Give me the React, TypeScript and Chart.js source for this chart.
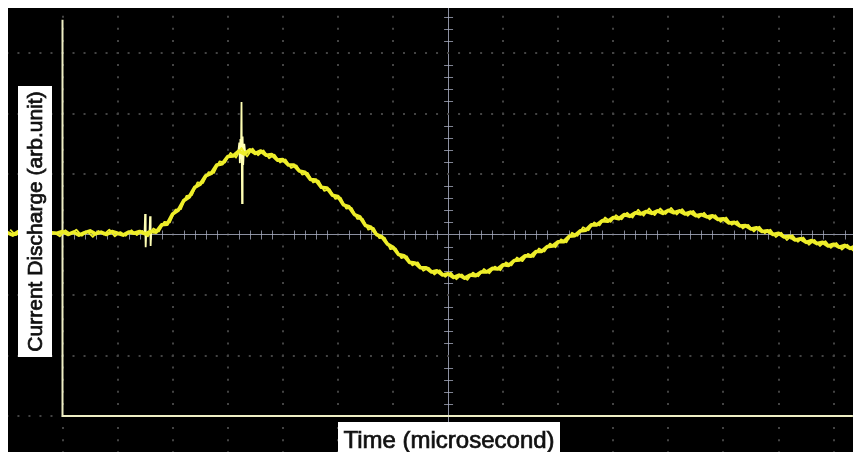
import React, { useEffect, useRef } from "react";
import { Chart, registerables } from "chart.js";

Chart.register(...registerables);

// time axis, in screen divisions
const timeDiv = [
  -1.0, -0.9, -0.8, -0.7, -0.6, -0.5, -0.4, -0.3, -0.2, -0.1,
  0.0, 0.1, 0.2, 0.3, 0.4, 0.5, 0.6, 0.7, 0.8, 0.9,
  1.0, 1.1, 1.2, 1.3, 1.4, 1.5, 1.6, 1.7, 1.8, 1.9,
  2.0, 2.1, 2.2, 2.3, 2.4, 2.5, 2.6, 2.7, 2.8, 2.9,
  3.0, 3.1, 3.2, 3.3, 3.4, 3.5, 3.6, 3.7, 3.8, 3.9,
  4.0, 4.1, 4.2, 4.3, 4.4, 4.5, 4.6, 4.7, 4.8, 4.9,
  5.0, 5.1, 5.2, 5.3, 5.4, 5.5, 5.6, 5.7, 5.8, 5.9,
  6.0, 6.1, 6.2, 6.3, 6.4, 6.5, 6.6, 6.7, 6.8, 6.9,
  7.0, 7.1, 7.2, 7.3, 7.4, 7.5, 7.6, 7.7, 7.8, 7.9,
  8.0, 8.1, 8.2, 8.3, 8.4, 8.5, 8.6, 8.7, 8.8, 8.9,
  9.0, 9.1, 9.2, 9.3, 9.4, 9.5, 9.6, 9.7, 9.8, 9.9,
  10.0, 10.1, 10.2, 10.3, 10.4, 10.5, 10.6, 10.7, 10.8, 10.9,
  11.0, 11.1, 11.2, 11.3, 11.4, 11.5, 11.6, 11.7, 11.8, 11.9,
  12.0, 12.1, 12.2, 12.3, 12.4, 12.5, 12.6, 12.7, 12.8, 12.9,
  13.0, 13.1, 13.2, 13.3, 13.4, 13.5, 13.6, 13.7, 13.8, 13.9,
  14.0, 14.1, 14.2, 14.3, 14.4, 14.5,
];

// current discharge, in screen divisions
const currentDiv = [
  0.03, -0.01, 0.05, 0.0, 0.04, 0.01, 0.06, -0.02, 0.03, 0.02,
  0.05, 0.0, 0.04, -0.01, 0.03, 0.06, 0.01, 0.04, 0.0, 0.05,
  0.02, -0.01, 0.04, 0.02, 0.05, 0.01, 0.05, 0.04, 0.16, 0.17,
  0.34, 0.4, 0.56, 0.62, 0.78, 0.83, 0.97, 1.01, 1.15, 1.17,
  1.29, 1.3, 1.38, 1.33, 1.4, 1.34, 1.38, 1.31, 1.32, 1.23,
  1.24, 1.15, 1.15, 1.05, 1.03, 0.91, 0.9, 0.78, 0.77, 0.65,
  0.63, 0.49, 0.46, 0.33, 0.29, 0.15, 0.12, 0.0, -0.04, -0.16,
  -0.21, -0.33, -0.35, -0.46, -0.47, -0.55, -0.55, -0.62, -0.6, -0.67,
  -0.65, -0.71, -0.67, -0.72, -0.67, -0.68, -0.62, -0.62, -0.56, -0.57,
  -0.5, -0.51, -0.43, -0.42, -0.35, -0.36, -0.28, -0.28, -0.2, -0.19,
  -0.12, -0.12, -0.03, -0.02, 0.06, 0.07, 0.16, 0.16, 0.23, 0.22,
  0.28, 0.26, 0.33, 0.3, 0.36, 0.34, 0.38, 0.35, 0.39, 0.35,
  0.4, 0.36, 0.39, 0.34, 0.37, 0.31, 0.33, 0.29, 0.31, 0.25,
  0.26, 0.19, 0.2, 0.14, 0.15, 0.09, 0.11, 0.05, 0.06, 0.0,
  0.02, -0.04, -0.03, -0.09, -0.07, -0.13, -0.1, -0.15, -0.13, -0.19,
  -0.16, -0.21, -0.18, -0.23, -0.19, -0.23,
];

// in-between samples, carrying the high-frequency noise of the trace
const fineTime = [
  -0.95, -0.85, -0.75, -0.65, -0.55, -0.45, -0.35, -0.25, -0.15, -0.05,
  0.05, 0.15, 0.25, 0.35, 0.45, 0.55, 0.65, 0.75, 0.85, 0.95,
  1.05, 1.15, 1.25, 1.35, 1.45, 1.55, 1.65, 1.75, 1.85, 1.95,
  2.05, 2.15, 2.25, 2.35, 2.45, 2.55, 2.65, 2.75, 2.85, 2.95,
  3.05, 3.15, 3.25, 3.35, 3.45, 3.55, 3.65, 3.75, 3.85, 3.95,
  4.05, 4.15, 4.25, 4.35, 4.45, 4.55, 4.65, 4.75, 4.85, 4.95,
  5.05, 5.15, 5.25, 5.35, 5.45, 5.55, 5.65, 5.75, 5.85, 5.95,
  6.05, 6.15, 6.25, 6.35, 6.45, 6.55, 6.65, 6.75, 6.85, 6.95,
  7.05, 7.15, 7.25, 7.35, 7.45, 7.55, 7.65, 7.75, 7.85, 7.95,
  8.05, 8.15, 8.25, 8.35, 8.45, 8.55, 8.65, 8.75, 8.85, 8.95,
  9.05, 9.15, 9.25, 9.35, 9.45, 9.55, 9.65, 9.75, 9.85, 9.95,
  10.05, 10.15, 10.25, 10.35, 10.45, 10.55, 10.65, 10.75, 10.85, 10.95,
  11.05, 11.15, 11.25, 11.35, 11.45, 11.55, 11.65, 11.75, 11.85, 11.95,
  12.05, 12.15, 12.25, 12.35, 12.45, 12.55, 12.65, 12.75, 12.85, 12.95,
  13.05, 13.15, 13.25, 13.35, 13.45, 13.55, 13.65, 13.75, 13.85, 13.95,
  14.05, 14.15, 14.25, 14.35, 14.45,
];
const fineCurrent = [
  0.08, -0.01, 0.04, -0.03, 0.07, 0.0, 0.09, -0.02, 0.03, -0.03,
  0.07, 0.01, 0.08, -0.02, 0.05, -0.04, 0.06, 0.0, 0.08, -0.03,
  0.04, -0.02, 0.07, -0.01, 0.06, -0.03, 0.1, 0.05, 0.21, 0.2,
  0.41, 0.42, 0.64, 0.65, 0.86, 0.85, 1.03, 1.02, 1.21, 1.19,
  1.35, 1.27, 1.43, 1.29, 1.42, 1.31, 1.39, 1.26, 1.32, 1.19,
  1.24, 1.1, 1.14, 0.99, 1.02, 0.86, 0.89, 0.72, 0.75, 0.59,
  0.61, 0.43, 0.44, 0.26, 0.26, 0.08, 0.11, -0.06, -0.05, -0.24,
  -0.23, -0.39, -0.36, -0.51, -0.46, -0.6, -0.55, -0.66, -0.59, -0.7,
  -0.63, -0.74, -0.66, -0.75, -0.63, -0.69, -0.57, -0.64, -0.53, -0.59,
  -0.46, -0.51, -0.38, -0.44, -0.32, -0.37, -0.23, -0.28, -0.15, -0.21,
  -0.08, -0.13, 0.03, -0.02, 0.12, 0.07, 0.2, 0.15, 0.28, 0.21,
  0.32, 0.25, 0.36, 0.28, 0.41, 0.31, 0.43, 0.32, 0.43, 0.34,
  0.44, 0.33, 0.42, 0.31, 0.39, 0.28, 0.36, 0.25, 0.32, 0.21,
  0.28, 0.16, 0.22, 0.1, 0.16, 0.05, 0.13, 0.02, 0.08, -0.04,
  0.03, -0.09, -0.01, -0.12, -0.05, -0.17, -0.09, -0.19, -0.11, -0.22,
  -0.14, -0.25, -0.17, -0.26, -0.18,
];

// switching spikes on the trace (null = break)
const spikeTime = [
  1.49, 1.5, 1.51, 1.52, 1.52,
  1.58, 1.59, 1.6, 1.61, 1.61,
  3.19, 3.21, 3.22, 3.23, 3.24, 3.25, 3.26, 3.27, 3.28, 3.3, 3.32,
];
const spikeCurrent = [
  0.03, 0.34, -0.21, 0.03, null,
  0.03, 0.3, -0.19, 0.03, null,
  1.35, 1.52, 1.18, 1.58, 1.25, 2.19, 0.52, 1.62, 1.15, 1.5, 1.33,
];

const gridTimes = [0, 1, 2, 3, 4, 5, 6, 7, 8, 9, 10, 11, 12, 13, 14];
const gridLevels = [-3, -2, -1, 0, 1, 2, 3];
const centerTime = 7;
const centerLevel = 0;
const axisTimeEnd = 14.35;
const axisLevelTop = 3.55;

const xTitle = "Time (microsecond)";
const yTitle = "Current Discharge (arb.unit)";

const X_MIN = -0.9895;
const X_MAX = 14.497;
const Y_MIN = -3.595;
const Y_MAX = 3.744;

const FONT = '"Liberation Sans", Arial, sans-serif';
const TRACE = "#eeee2a";

const framePlugin = {
  id: "scopeFrame",
  beforeDatasetsDraw(chart: any) {
    const { ctx, scales } = chart;
    const xs = scales.x;
    const ys = scales.y;
    const cx = xs.getPixelForValue(centerTime);
    const cy = ys.getPixelForValue(centerLevel);
    ctx.save();
    // minor ticks on the centre cross
    ctx.strokeStyle = "rgba(170,175,195,0.75)";
    ctx.lineWidth = 1;
    ctx.beginPath();
    for (let k = -1; k <= 14; k++) {
      for (let j = 1; j <= 4; j++) {
        const px = Math.round(xs.getPixelForValue(k + j * 0.2)) + 0.5;
        ctx.moveTo(px, cy - 4);
        ctx.lineTo(px, cy + 5);
      }
    }
    for (let k = -4; k <= 3; k++) {
      for (let j = 1; j <= 4; j++) {
        const py = Math.round(ys.getPixelForValue(k + j * 0.2)) + 0.5;
        ctx.moveTo(cx - 4, py);
        ctx.lineTo(cx + 5, py);
      }
    }
    ctx.stroke();
    // yellow-white axes
    ctx.strokeStyle = "#eeeec4";
    ctx.lineWidth = 2;
    ctx.beginPath();
    const x0 = xs.getPixelForValue(0);
    const yb = ys.getPixelForValue(-3);
    ctx.moveTo(x0, ys.getPixelForValue(axisLevelTop));
    ctx.lineTo(x0, yb);
    ctx.lineTo(xs.getPixelForValue(axisTimeEnd), yb);
    ctx.stroke();
    ctx.restore();
  },
};

const titlePlugin = {
  id: "boxedTitles",
  afterDraw(chart: any) {
    const { ctx } = chart;
    ctx.save();
    // y title
    ctx.fillStyle = "#ffffff";
    ctx.fillRect(10, 78, 34, 271);
    ctx.save();
    ctx.translate(28, 213.5);
    ctx.rotate(-Math.PI / 2);
    ctx.font = `21px ${FONT}`;
    ctx.textAlign = "center";
    ctx.textBaseline = "middle";
    ctx.fillStyle = "#111111";
    ctx.strokeStyle = "#111111";
    ctx.lineWidth = 0.7;
    ctx.fillText(yTitle, 0, 0);
    ctx.strokeText(yTitle, 0, 0);
    ctx.restore();
    // x title
    ctx.fillStyle = "#ffffff";
    ctx.fillRect(330, 414, 222, 30);
    ctx.font = `24px ${FONT}`;
    ctx.textAlign = "center";
    ctx.textBaseline = "alphabetic";
    ctx.fillStyle = "#111111";
    ctx.strokeStyle = "#111111";
    ctx.lineWidth = 0.7;
    ctx.fillText(xTitle, 441, 440);
    ctx.strokeText(xTitle, 441, 440);
    ctx.restore();
  },
};

const bgPlugin = {
  id: "blackBg",
  beforeDraw(chart: any) {
    const { ctx, width, height } = chart;
    ctx.save();
    ctx.fillStyle = "#000000";
    ctx.fillRect(0, 0, width, height);
    ctx.restore();
  },
};

export default function App() {
  const ref = useRef<HTMLCanvasElement | null>(null);

  useEffect(() => {
    if (!ref.current) return;
    const trace = timeDiv.map((t, i) => ({ x: t, y: currentDiv[i] }));
    const fine = fineTime.map((t, i) => ({ x: t, y: fineCurrent[i] }));
    const spikes = spikeTime.map((t, i) => ({ x: t, y: spikeCurrent[i] }));

    const chart = new Chart(ref.current, {
      type: "line",
      data: {
        datasets: [
          {
            data: trace as any,
            borderColor: TRACE,
            borderWidth: 3.6,
            pointRadius: 0,
            tension: 0,
            borderJoinStyle: "round",
            borderCapStyle: "round",
          },
          {
            data: fine as any,
            borderColor: TRACE,
            borderWidth: 1.8,
            pointRadius: 0,
            tension: 0,
            borderJoinStyle: "round",
          },
          {
            data: spikes as any,
            borderColor: "#ffffb4",
            borderWidth: 1.8,
            pointRadius: 0,
            tension: 0,
            spanGaps: false,
          },
        ],
      },
      options: {
        animation: false,
        responsive: false,
        events: [],
        layout: { padding: 0 },
        plugins: {
          legend: { display: false },
          tooltip: { enabled: false },
          title: { display: false },
        },
        scales: {
          x: {
            type: "linear",
            min: X_MIN,
            max: X_MAX,
            afterBuildTicks: (s: any) => {
              s.ticks = gridTimes.map((v) => ({ value: v }));
            },
            ticks: { display: false },
            grid: {
              drawTicks: false,
              color: (c: any) =>
                c.tick && c.tick.value === centerTime ? "#8c90a0" : "#444444",
              lineWidth: (c: any) =>
                c.tick && c.tick.value === centerTime ? 1 : 2,
            },
            border: {
              display: false,
              dash: (c: any) =>
                c.tick && c.tick.value === centerTime ? [] : [2, 10.1],
              dashOffset: 4.4,
            },
          },
          y: {
            type: "linear",
            min: Y_MIN,
            max: Y_MAX,
            afterBuildTicks: (s: any) => {
              s.ticks = gridLevels.map((v) => ({ value: v }));
            },
            ticks: { display: false },
            grid: {
              drawTicks: false,
              color: (c: any) =>
                c.tick && c.tick.value === centerLevel ? "#8c90a0" : "#444444",
              lineWidth: (c: any) =>
                c.tick && c.tick.value === centerLevel ? 1 : 2,
            },
            border: {
              display: false,
              dash: (c: any) =>
                c.tick && c.tick.value === centerLevel ? [] : [2, 9.016],
              dashOffset: 1.58,
            },
          },
        },
      } as any,
      plugins: [bgPlugin, framePlugin, titlePlugin],
    });
    return () => chart.destroy();
  }, []);

  return (
    <div style={{ width: 853, height: 444 }}>
      <style>{`html,body{overflow:hidden;}`}</style>
      <canvas ref={ref} width={853} height={444} style={{ display: "block" }} />
    </div>
  );
}
